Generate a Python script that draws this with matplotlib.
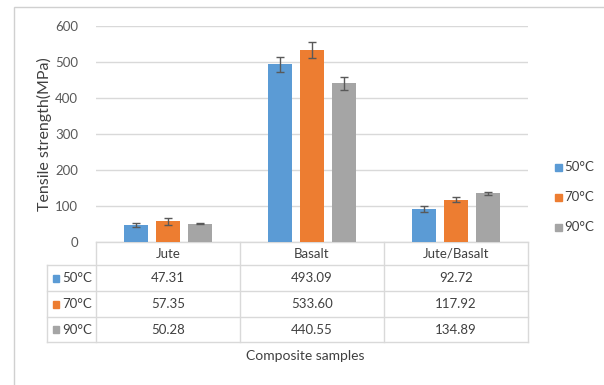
import matplotlib
matplotlib.use("Agg")
import matplotlib.pyplot as plt
import matplotlib.transforms as mtransforms
from matplotlib.patches import Rectangle
import numpy as np

plt.rcParams['font.family'] = ['Lato', 'DejaVu Sans']

# Data
categories = ["Jute", "Basalt", "Jute/Basalt"]
series_labels = ["50°C", "70°C", "90°C"]
strength_50 = [47.31, 493.09, 92.72]
strength_70 = [57.35, 533.60, 117.92]
strength_90 = [50.28, 440.55, 134.89]
error_50 = [5.5, 20.0, 8.5]
error_70 = [9.0, 23.0, 6.0]
error_90 = [1.5, 17.5, 5.0]
yticks = [0, 100, 200, 300, 400, 500, 600]

colors = ["#5b9bd5", "#ed7d31", "#a5a5a5"]
text_color = "#404040"
tick_color = "#595959"
grid_color = "#d9d9d9"

W, H = 604, 385
fig = plt.figure(figsize=(W / 100, H / 100), dpi=100)

def fx(px):
    return px / W

def fy(py):
    return 1 - py / H

# Chart border
fig.patches.append(Rectangle((fx(13.5), fy(500)), fx(700), fy(6.5) - fy(500),
                             transform=fig.transFigure, fill=False,
                             edgecolor="#d0d0d0", linewidth=1.0))

ax = fig.add_axes([fx(96), fy(242), fx(528) - fx(96), fy(26) - fy(242)])
ax.set_xlim(-0.5, 2.5)
ax.set_ylim(0, 600)

series = [strength_50, strength_70, strength_90]
errors = [error_50, error_70, error_90]
x = np.arange(len(categories))
bar_w = 24 / 144
step = 32 / 144
for i, (vals, errs) in enumerate(zip(series, errors)):
    ax.bar(x + (i - 1) * step, vals, width=bar_w, color=colors[i], zorder=3,
           label=series_labels[i])
    ax.errorbar(x + (i - 1) * step, vals, yerr=errs, fmt="none",
                ecolor="#595959", elinewidth=1.0, capsize=3, capthick=1.0, zorder=4)

ax.set_yticks(yticks)
ax.yaxis.grid(True, color=grid_color, linewidth=1.0, zorder=0)
ax.set_xticks([])
for s in ax.spines.values():
    s.set_visible(False)
ax.tick_params(axis="y", length=0, pad=13, labelsize=9.5, labelcolor=tick_color)
ax.set_ylabel("Tensile strength(MPa)", fontsize=11.5, color=text_color, labelpad=2)

# Data table below the plot
blend = mtransforms.blended_transform_factory(ax.transData, fig.transFigure)
line_kw = dict(color=grid_color, linewidth=1.0, transform=blend, clip_on=False)
left_x = -0.5 - 49 / 144
bounds = [-0.5, 0.5, 1.5, 2.5]
y_top, y_head, y_bot = 242, 265, 342
row_lines = [265, 291, 317, 342]

# horizontal lines
ax.plot([bounds[0], bounds[-1]], [fy(y_top)] * 2, **line_kw)
for ry in row_lines:
    ax.plot([left_x, bounds[-1]], [fy(ry)] * 2, **line_kw)
# vertical lines
for b in bounds:
    ax.plot([b, b], [fy(y_top), fy(y_bot)], **line_kw)
ax.plot([left_x, left_x], [fy(y_head), fy(y_bot)], **line_kw)

for j, cat in enumerate(categories):
    ax.text(x[j], fy(253.5), cat, transform=blend, ha="center", va="center",
            fontsize=9.5, color=text_color)
row_centers = [278, 304, 329.5]
for i, vals in enumerate(series):
    yc = fy(row_centers[i])
    ax.add_patch(Rectangle((left_x + 6 / 144, yc - 3.5 / H), 6 / 144, 7 / H,
                           transform=blend, color=colors[i], clip_on=False))
    ax.text(-0.5 - 4 / 144, yc, series_labels[i], transform=blend, ha="right",
            va="center", fontsize=9.5, color=text_color)
    for j, v in enumerate(vals):
        ax.text(x[j], yc, f"{v:.2f}", transform=blend, ha="center", va="center",
                fontsize=9.5, color=text_color)

fig.text(fx(305), fy(356), "Composite samples", ha="center", va="center",
         fontsize=10, color=text_color)

# Legend
leg_y = [167, 197, 227]
for i, lab in enumerate(series_labels):
    fig.patches.append(Rectangle((fx(555), fy(leg_y[i] + 3.5)), fx(6.5), 7 / H,
                                 transform=fig.transFigure, color=colors[i]))
    fig.text(fx(564), fy(leg_y[i]), lab, ha="left", va="center", fontsize=9.5,
             color=text_color)

fig.savefig("out.png", dpi=100, facecolor="white")
